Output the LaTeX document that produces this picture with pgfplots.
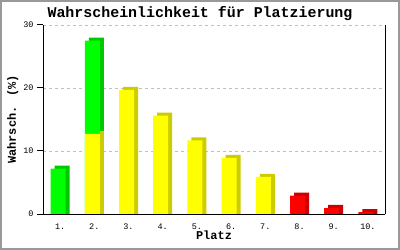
\documentclass[border=0pt]{standalone}
\usepackage{pgfplots}
\pgfplotsset{compat=1.18}
\usepackage{fontspec}
\setmainfont{Liberation Mono}
\definecolor{fg}{HTML}{00FF00}
\definecolor{bg}{HTML}{00C800}
\definecolor{fy}{HTML}{FFFF00}
\definecolor{by}{HTML}{CCCC00}
\definecolor{fr}{HTML}{FF0000}
\definecolor{br}{HTML}{CC0000}
\begin{document}
\begin{tikzpicture}
\fill[white] (0,0) rectangle (400bp,250bp);
\draw[black!40, line width=2bp] (1bp,1bp) rectangle (399bp,249bp);
\node[font=\fontsize{15}{16}\selectfont\bfseries] at (200bp,236bp) {Wahrscheinlichkeit für Platzierung};
\begin{axis}[
  at={(43bp,36bp)}, anchor=south west, scale only axis,
  width=342bp, height=189bp,
  xmin=0.5, xmax=10.5, ymin=0, ymax=30,
  clip=false,
  axis x line*=bottom, axis y line*=left,
  axis line style={line width=1bp},
  xtick={1,...,10},
  xticklabels={1.,2.,3.,4.,5.,6.,7.,8.,9.,10.},
  ytick={0,10,20,30},
  x tick style={draw=none},
  y tick style={black, line width=1bp},
  tick align=outside, major tick length=6bp,
  ymajorgrids, grid style={dashed, black!25, dash pattern=on 3bp off 3bp},
  tick label style={font=\fontsize{8.5}{9}\selectfont},
  /pgf/number format/assume math mode=true,
  xlabel={\fontsize{12}{13}\selectfont\bfseries Platz},
  ylabel={\fontsize{12}{13}\selectfont\bfseries Wahrsch. (\%)},
  xlabel style={yshift=5bp},
  ylabel style={yshift=-2bp},
  ybar, bar width=15bp,
]
% back (side) faces
\addplot[draw=none, fill=bg, bar shift=2bp] coordinates {(1,7.68) (2,27.98)};
\addplot[draw=none, fill=by, bar shift=2bp] coordinates {(2,13.18) (3,20.18) (4,16.08) (5,12.18) (6,9.38) (7,6.38)};
\addplot[draw=none, fill=br, bar shift=2bp] coordinates {(8,3.38) (9,1.43) (10,0.78)};
% front faces
\addplot[draw=none, fill=fg, bar shift=-2bp] coordinates {(1,7.2) (2,27.5)};
\addplot[draw=none, fill=fy, bar shift=-2bp] coordinates {(2,12.7) (3,19.7) (4,15.6) (5,11.7) (6,8.9) (7,5.9)};
\addplot[draw=none, fill=fr, bar shift=-2bp] coordinates {(8,2.9) (9,0.95) (10,0.3)};
\draw[black, line width=1bp] (axis cs:10.5,0) -- (axis cs:10.5,30);
\draw[black, line width=1bp] (axis cs:0.5,0) -- (axis cs:10.5,0);
\end{axis}
\end{tikzpicture}
\end{document}
